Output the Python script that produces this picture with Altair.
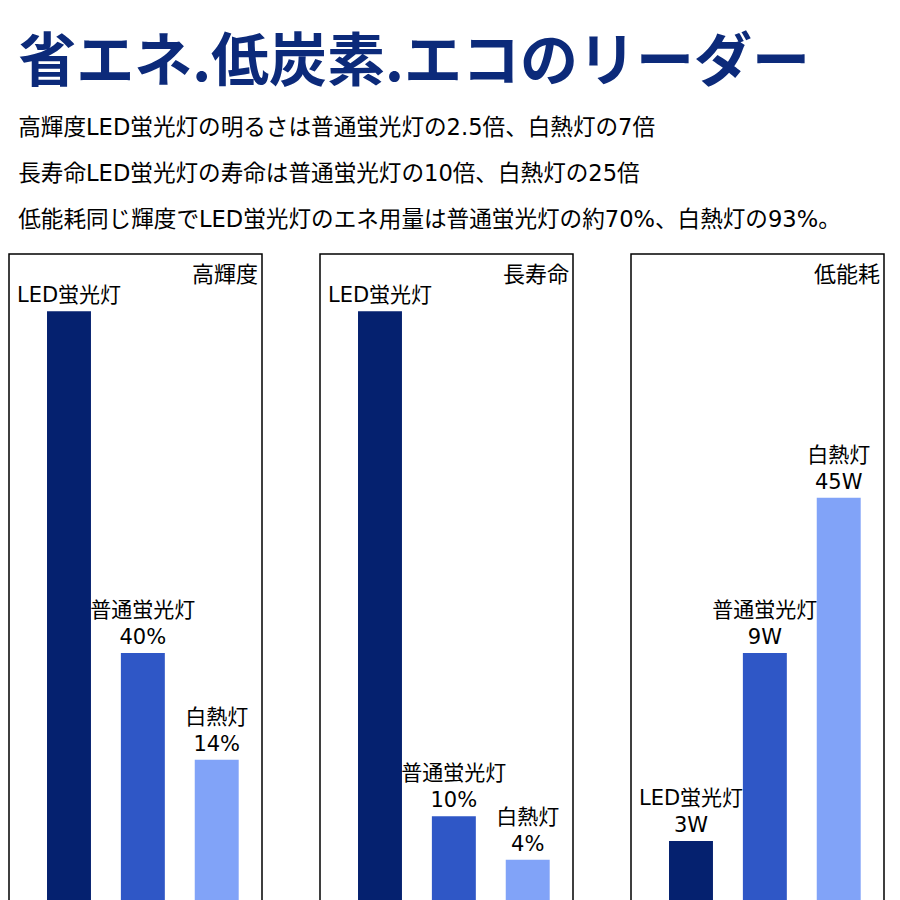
import altair as alt
import pandas as pd

FONT = "Noto Sans CJK JP"
MIX_FONT = "DejaVu Sans, Noto Sans CJK JP"

# --- data -------------------------------------------------------------
main_title = "省エネ.低炭素.エコのリーダー"
sub_lines = [
    "高輝度LED蛍光灯の明るさは普通蛍光灯の2.5倍、白熱灯の7倍",
    "長寿命LED蛍光灯の寿命は普通蛍光灯の10倍、白熱灯の25倍",
    "低能耗同じ輝度でLED蛍光灯のエネ用量は普通蛍光灯の約70%、白熱灯の93%。",
]
panel_titles = ["高輝度", "長寿命", "低能耗"]
lamp_types = ["LED蛍光灯", "普通蛍光灯", "白熱灯"]

# visual bar heights (share of panel height, 0-100)
heights_brightness = [91.2, 38.6, 22.2]
heights_lifetime = [91.2, 13.5, 6.8]
heights_power = [9.7, 38.6, 62.5]

# value labels printed above the bars
values_brightness = ["", "40%", "14%"]
values_lifetime = ["", "10%", "4%"]
values_power = ["3W", "9W", "45W"]

lamp_colors = ["#05216f", "#2f57c6", "#81a3f8"]
title_color = "#0c2a7a"

PANEL_W = 253
PANEL_H = 650
LINE_H = 27


def make_panel(title, heights, values):
    df = pd.DataFrame({"lamp": lamp_types, "h": heights, "value": values})
    base = alt.Chart(df).encode(
        x=alt.X(
            "lamp:N",
            sort=lamp_types,
            axis=None,
            scale=alt.Scale(paddingInner=0.405, paddingOuter=0.415, align=0.62),
        ),
        y=alt.Y(
            "h:Q",
            axis=None,
            scale=alt.Scale(domain=[0, 100], nice=False, zero=True),
        ),
    )
    bars = base.mark_bar().encode(
        color=alt.Color(
            "lamp:N",
            scale=alt.Scale(domain=lamp_types, range=lamp_colors),
            legend=None,
        )
    )
    txt = dict(baseline="bottom", fontSize=21, font=MIX_FONT, color="black")
    value_text = base.mark_text(dy=-5, **txt).encode(text="value:N")
    name_high = (
        base.transform_filter("datum.value != ''")
        .mark_text(dy=-5 - LINE_H, **txt)
        .encode(text="lamp:N")
    )
    name_low = (
        base.transform_filter("datum.value == ''")
        .mark_text(dy=-5, **txt)
        .encode(text="lamp:N")
    )
    ptitle = (
        alt.Chart(pd.DataFrame({"t": [title]}))
        .mark_text(
            align="right",
            baseline="middle",
            fontSize=22,
            font=FONT,
            color="black",
        )
        .encode(text="t:N", x=alt.value(PANEL_W - 4), y=alt.value(21))
    )
    return alt.layer(bars, value_text, name_high, name_low, ptitle).properties(
        width=PANEL_W, height=PANEL_H
    )


p1 = make_panel(panel_titles[0], heights_brightness, values_brightness)
p2 = make_panel(panel_titles[1], heights_lifetime, values_lifetime)
p3 = make_panel(panel_titles[2], heights_power, values_power)

chart = (
    alt.hconcat(p1, p2, p3, spacing=56)
    .properties(
        title=alt.TitleParams(
            text=main_title,
            subtitle=sub_lines,
            anchor="start",
            font=FONT,
            fontSize=58,
            fontWeight="bold",
            color=title_color,
            subtitleFont=MIX_FONT,
            subtitleFontSize=22.6,
            subtitleColor="black",
            subtitleLineHeight=46,
            subtitlePadding=24,
            dx=10,
            offset=22,
        ),
        padding={"left": 0, "top": 26, "right": 0, "bottom": 0},
        background="white",
    )
    .configure_view(stroke="black", strokeWidth=1.5)
)

chart.save("out.html", embed_options={"renderer": "svg", "actions": False})
